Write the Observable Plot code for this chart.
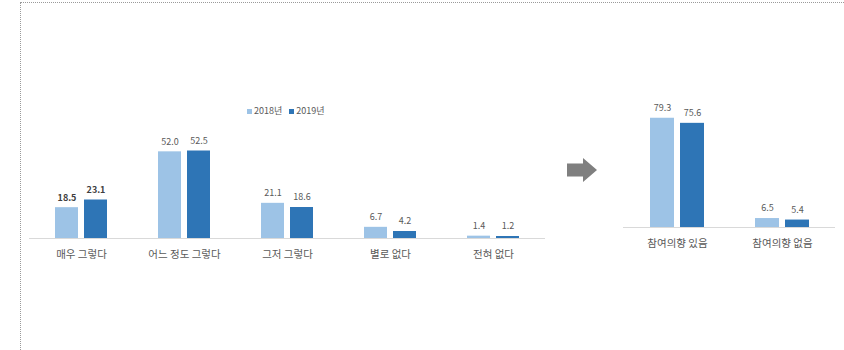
<!DOCTYPE html>
<html>
<head>
<meta charset="utf-8">
<script src="https://cdn.jsdelivr.net/npm/d3@7"></script>
<script src="https://cdn.jsdelivr.net/npm/@observablehq/plot@0.6"></script>
<style>
  body { margin: 0; background: #fff; }
  #wrap { position: relative; width: 844px; height: 350px; overflow: hidden; font-family: "Noto Sans CJK KR", "Noto Sans", sans-serif; }
  #frame { position: absolute; left: 20px; top: 2px; right: -2px; bottom: -2px; border-top: 1px dotted #9a9a9a; border-left: 1px dotted #9a9a9a; }
  .chart { position: absolute; top: 0; }
  #legend { position: absolute; left: 247px; top: 104px; font-size: 9px; color: #595959; display: flex; gap: 7px; align-items: center; }
  #legend span.sw { display: inline-block; width: 5px; height: 5px; margin-right: 2px; vertical-align: middle; }
  #arrow { position: absolute; left: 0; top: 0; }
</style>
</head>
<body>
<div id="wrap">
  <div id="frame"></div>
  <div id="left" class="chart" style="left:0px"></div>
  <div id="right" class="chart" style="left:600px"></div>
  <div id="legend"></div>
  <svg id="arrow" width="844" height="350"><polygon points="567,163.5 583,163.5 583,158 597,170 583,182 583,176.5 567,176.5" fill="#7f7f7f"/></svg>
</div>
<script>
const years = ["2018년", "2019년"];
const colors = ["#9DC3E6", "#2E75B6"];

const categoriesA = ["매우 그렇다", "어느 정도 그렇다", "그저 그렇다", "별로 없다", "전혀 없다"];
const values2018A = [18.5, 52.0, 21.1, 6.7, 1.4];
const values2019A = [23.1, 52.5, 18.6, 4.2, 1.2];

const categoriesB = ["참여의향 있음", "참여의향 없음"];
const values2018B = [79.3, 6.5];
const values2019B = [75.6, 5.4];

const fmt = d3.format(".1f");
const font = '"Noto Sans CJK KR", "Noto Sans", sans-serif';

const dataA = categoriesA.map((c, i) => ({cat: c, a: values2018A[i], b: values2019A[i], bold: i === 0}));
const dataB = categoriesB.map((c, i) => ({cat: c, a: values2018B[i], b: values2019B[i], bold: false}));

function labels(data, key, dx, bold) {
  return Plot.text(data.filter(d => d.bold === bold), {
    x: "cat", y: key, text: d => fmt(d[key]), dx, dy: -10, fontSize: 9,
    fill: bold ? "#404040" : "#595959", fontWeight: bold ? "bold" : "normal"
  });
}

function chart(data, cats, opts) {
  const inset = opts.inset, off = opts.off;
  return Plot.plot({
    width: opts.width,
    height: 350,
    marginLeft: opts.ml, marginRight: opts.mr, marginTop: opts.mt, marginBottom: 350 - opts.base,
    style: {fontFamily: font, color: "#595959", background: "transparent", overflow: "visible"},
    x: {type: "band", domain: cats, paddingInner: opts.pi, paddingOuter: opts.po},
    y: {domain: [0, opts.ymax], axis: null},
    marks: [
      Plot.ruleY([0], {stroke: "#d9d9d9", strokeWidth: 1}),
      Plot.barY(data, {x: "cat", y: "a", fill: colors[0], insetRight: inset}),
      Plot.barY(data, {x: "cat", y: "b", fill: colors[1], insetLeft: inset}),
      labels(data, "a", -off, false),
      labels(data, "b", off, false),
      labels(data, "a", -off, true),
      labels(data, "b", off, true),
      Plot.axisX({tickSize: 0, tickPadding: opts.tp, fontSize: 10.5, label: null})
    ]
  });
}

document.getElementById("left").append(chart(dataA, categoriesA, {
  width: 560, ml: 29, mr: 15, mt: 138, base: 238, ymax: 60,
  pi: 0.495, po: 0.25, inset: 29, off: 14.5, tp: 12
}));

document.getElementById("right").append(chart(dataB, categoriesB, {
  width: 244, ml: 23, mr: 9, mt: 103, base: 227, ymax: 90,
  pi: 0.486, po: 0.2525, inset: 30, off: 15, tp: 12
}));

const legend = document.getElementById("legend");
years.forEach((y, i) => {
  const item = document.createElement("div");
  item.innerHTML = `<span class="sw" style="background:${colors[i]}"></span>${y}`;
  legend.append(item);
});
</script>
</body>
</html>
